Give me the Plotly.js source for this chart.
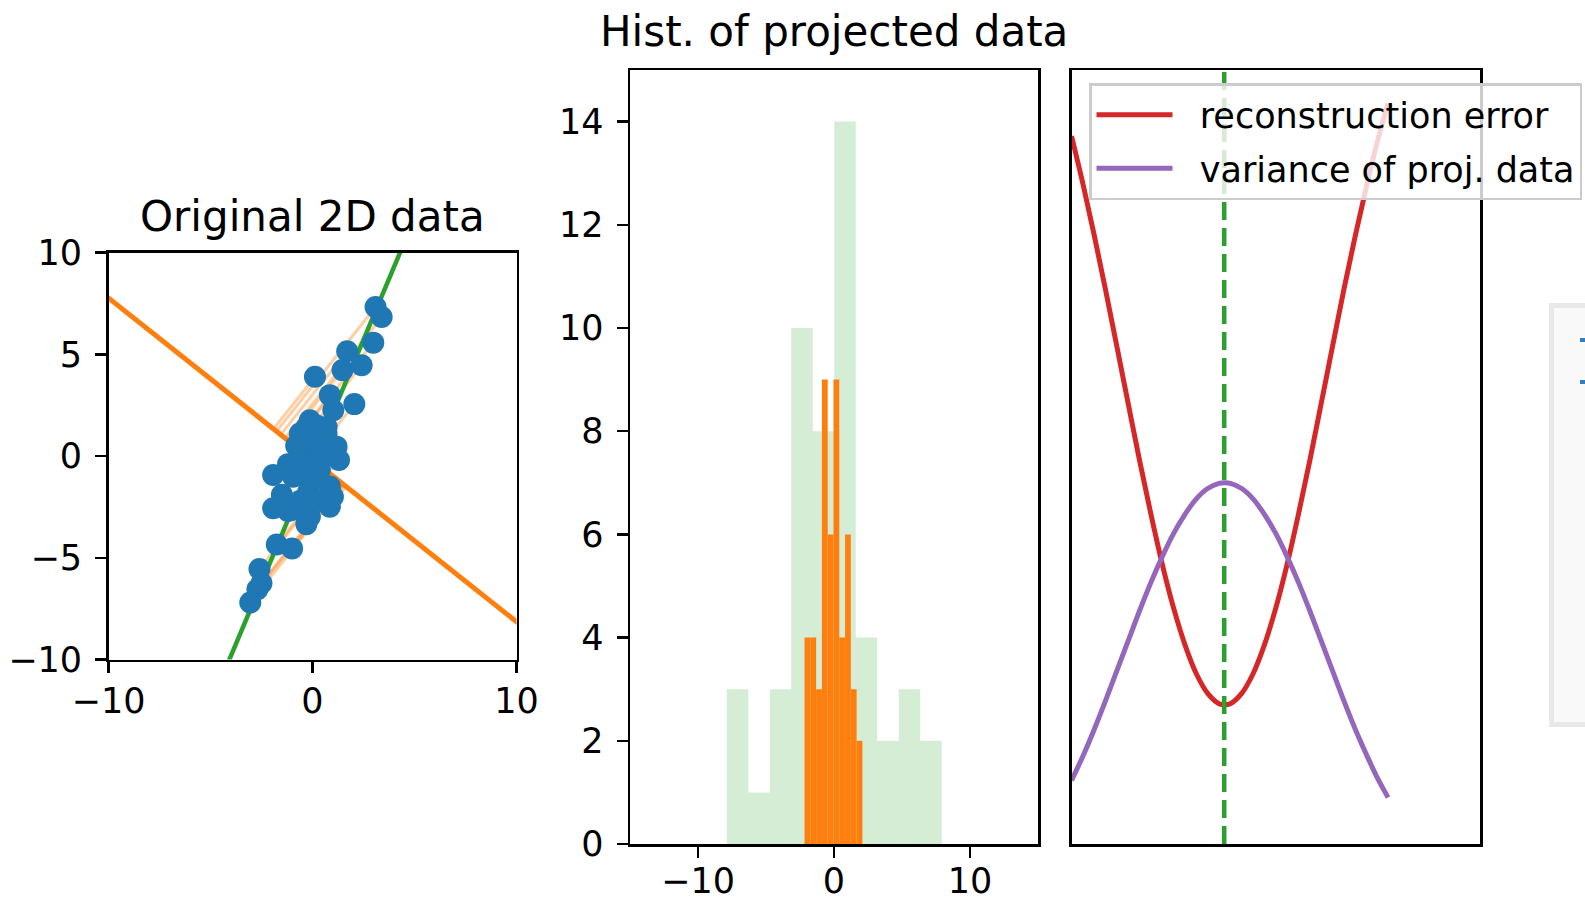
<!DOCTYPE html>
<html><head><meta charset="utf-8">
<script src="https://cdn.plot.ly/plotly-3.0.1.min.js"></script>
<style>
html,body{margin:0;padding:0;background:#fff;overflow:hidden;}
#chart{position:absolute;left:0;top:0;width:1585px;height:899px;}
#widget{position:absolute;left:1549px;top:303px;width:60px;height:414px;background:#f9f9f9;border:5px solid #e8e8e8;}
.wmark{position:absolute;left:26px;width:10px;height:4px;background:#2f7fc1;}
</style></head><body>
<div id="chart"></div>
<div id="widget"><div class="wmark" style="top:30px"></div><div class="wmark" style="top:72px"></div></div>
<script>
// ---- Original 2D data ----
const pointsX = [3.09,3.39,2.98,1.70,2.41,1.47,0.12,2.05,0.85,1.02,-0.13,0.69,-0.62,0.69,1.18,-0.46,-1.93,-0.95,0.36,0.85,
  -0.21,-1.93,-1.02,-0.13,0.85,-1.75,-1.00,-0.30,-3.05,-2.70,-2.50,-2.60,-1.50,-0.60,0.30,-1.20,-1.20,0.00,-0.40,1.00,
  0.00,0.40,-0.30,0.20,-0.80,0.90,0.30,-0.20,1.30,0.50];
const pointsY = [7.32,6.83,5.57,5.15,4.46,4.22,3.89,2.55,2.99,2.25,1.76,1.43,1.11,1.11,0.46,0.13,-0.93,-1.02,-0.69,-1.50,
  -1.76,-2.57,-2.65,-2.98,-2.49,-4.35,-4.55,-3.35,-7.20,-6.55,-6.25,-5.55,-1.90,-2.20,-2.20,-2.70,-0.40,-1.20,-0.60,-2.00,
  0.60,0.30,1.40,1.50,0.50,0.10,-0.10,0.90,-0.20,0.90];
const pcaAngleDeg = 67.3;       // principal direction (green)
const currentAngleDeg = 141.5;  // current projection direction (orange)

// ---- Histograms of projected data ----
const greenHistEdges  = [-7.88,-6.30,-4.72,-3.14,-1.56,0.02,1.60,3.18,4.76,6.34,7.92];
const greenHistCounts = [3,1,3,10,8,14,4,2,3,2];
const orangeHistEdges  = [-2.165,-1.74,-1.314,-0.889,-0.463,-0.038,0.388,0.813,1.239,1.664,2.09];
const orangeHistCounts = [4,4,3,9,6,9,4,6,3,2];

// ---- Error / variance vs. angle ----
const angleDeg = [0,5,10,15,20,25,30,35,40,45,50,55,60,65,67.5,70,75,80,85,90,95,100,105,110,115,120,125,130,135,139.5];
const reconError = [13.72,12.80,11.80,10.74,9.64,8.53,7.43,6.39,5.42,4.57,3.86,3.30,2.92,2.72,2.70,2.72,2.92,3.30,3.86,4.57,
  5.42,6.39,7.43,8.53,9.64,10.74,11.78,12.75,13.65,14.35];
const projVariance = [1.23,1.70,2.22,2.78,3.36,3.94,4.52,5.07,5.57,6.02,6.39,6.69,6.89,6.99,7.00,6.99,6.89,6.69,6.39,6.02,
  5.57,5.07,4.52,3.94,3.36,2.78,2.23,1.73,1.26,0.90];

const xTicksScatter = [-10,0,10], yTicksScatter = [-10,-5,0,5,10];
const xTicksHist = [-10,0,10], yTicksHist = [0,2,4,6,8,10,12,14];
const legendNames = ['reconstruction error', 'variance of proj. data'];
const titles = ['Original 2D data', 'Hist. of projected data'];

// ---- derived geometry ----
const n = pointsX.length;
const cx = pointsX.reduce((a,b)=>a+b,0)/n, cy = pointsY.reduce((a,b)=>a+b,0)/n;
function dir(deg){const r=deg*Math.PI/180;return [Math.cos(r),Math.sin(r)];}
const g = dir(pcaAngleDeg), o = dir(currentAngleDeg);
const L = 40;
const projX = [], projY = [];
for (let i=0;i<n;i++){
  const t = (pointsX[i]-cx)*o[0] + (pointsY[i]-cy)*o[1];
  projX.push(pointsX[i], cx+t*o[0], null);
  projY.push(pointsY[i], cy+t*o[1], null);
}
function centers(e){return e.slice(0,-1).map((v,i)=>(v+e[i+1])/2);}
function widths(e){return e.slice(0,-1).map((v,i)=>e[i+1]-v);}

const FONT = 'DejaVu Sans';
const PAD = '\u00a0\u00a0';
const traces = [
  {x:projX, y:projY, mode:'lines', line:{color:'rgba(255,127,14,0.38)', width:3}, xaxis:'x', yaxis:'y', showlegend:false, hoverinfo:'skip'},
  {x:[cx-L*o[0], cx+L*o[0]], y:[cy-L*o[1], cy+L*o[1]], mode:'lines', line:{color:'#ff7f0e', width:5}, xaxis:'x', yaxis:'y', showlegend:false},
  {x:[cx-L*g[0], cx+L*g[0]], y:[cy-L*g[1], cy+L*g[1]], mode:'lines', line:{color:'#2ca02c', width:4.5}, xaxis:'x', yaxis:'y', showlegend:false},
  {x:pointsX, y:pointsY, mode:'markers', marker:{color:'#1f77b4', size:22, line:{width:0}}, xaxis:'x', yaxis:'y', showlegend:false},
  {type:'bar', x:centers(greenHistEdges), y:greenHistCounts, width:widths(greenHistEdges), marker:{color:'rgba(44,160,44,0.2)', line:{width:0}}, xaxis:'x2', yaxis:'y2', showlegend:false},
  {type:'bar', x:centers(orangeHistEdges), y:orangeHistCounts, width:widths(orangeHistEdges), marker:{color:'#ff7f0e', line:{width:0}}, xaxis:'x2', yaxis:'y2', showlegend:false},
  {x:angleDeg, y:reconError, mode:'lines', name:PAD+legendNames[0], legendgroup:'a', line:{color:'#d62728', width:5, shape:'spline'}, xaxis:'x3', yaxis:'y3'},
  {x:angleDeg, y:projVariance, mode:'lines', name:PAD+legendNames[1], legendgroup:'b', line:{color:'#9467bd', width:5, shape:'spline'}, xaxis:'x3', yaxis:'y3'}
];

const ax = {showline:true, mirror:true, linecolor:'#000', linewidth:2.5, ticks:'outside', ticklen:11, tickwidth:2.5,
  tickcolor:'#000', showgrid:false, zeroline:false, tickfont:{family:FONT, size:35, color:'#000'}};
const W = 1585, H = 899;
const dx = (a,b)=>[a/W,b/W], dy = (top,bot)=>[1-bot/H, 1-top/H];

const layout = {
  width:W, height:H, paper_bgcolor:'#fff', plot_bgcolor:'#fff',
  margin:{l:0,r:0,t:0,b:0, autoexpand:false},
  barmode:'overlay', hovermode:false,
  xaxis:Object.assign({}, ax, {domain:dx(108.5,516.5), range:[-10,10], tickvals:xTicksScatter, anchor:'y', ticklabelstandoff:-2}),
  yaxis:Object.assign({}, ax, {domain:dy(252.5,659.5), range:[-10,10], tickvals:yTicksScatter, anchor:'x', ticklabelstandoff:6}),
  xaxis2:Object.assign({}, ax, {domain:dx(630,1038), range:[-15,15], tickvals:xTicksHist, anchor:'y2', ticklabelstandoff:-7}),
  yaxis2:Object.assign({}, ax, {domain:dy(70,844), range:[0,15], tickvals:yTicksHist, anchor:'x2', ticklabelstandoff:6}),
  xaxis3:Object.assign({}, ax, {domain:dx(1071.5,1480), range:[0,180], ticks:'', showticklabels:false, anchor:'y3'}),
  yaxis3:Object.assign({}, ax, {domain:dy(70,844), range:[0,15], ticks:'', showticklabels:false, anchor:'x3'}),
  shapes:[{type:'line', xref:'x3', yref:'y3 domain', x0:pcaAngleDeg, x1:pcaAngleDeg, y0:0, y1:1,
    line:{color:'#2ca02c', width:4.5, dash:'18px,8px'}}],
  annotations:[
    {text:titles[0], xref:'paper', yref:'paper', x:312/W, y:1-216/H, xanchor:'center', yanchor:'middle', showarrow:false, font:{family:FONT, size:42, color:'#000'}},
    {text:titles[1], xref:'paper', yref:'paper', x:833.5/W, y:1-31.5/H, xanchor:'center', yanchor:'middle', showarrow:false, font:{family:FONT, size:42, color:'#000'}}
  ],
  legend:{x:1089/W, y:1-83/H, xanchor:'left', yanchor:'top', bgcolor:'rgba(255,255,255,0.8)', bordercolor:'#cccccc', borderwidth:2.5,
    font:{family:FONT, size:35, color:'#000'}, itemwidth:76, traceorder:'grouped', tracegroupgap:5},
  showlegend:true
};
Plotly.newPlot('chart', traces, layout, {staticPlot:true, displayModeBar:false});
</script>
</body></html>
